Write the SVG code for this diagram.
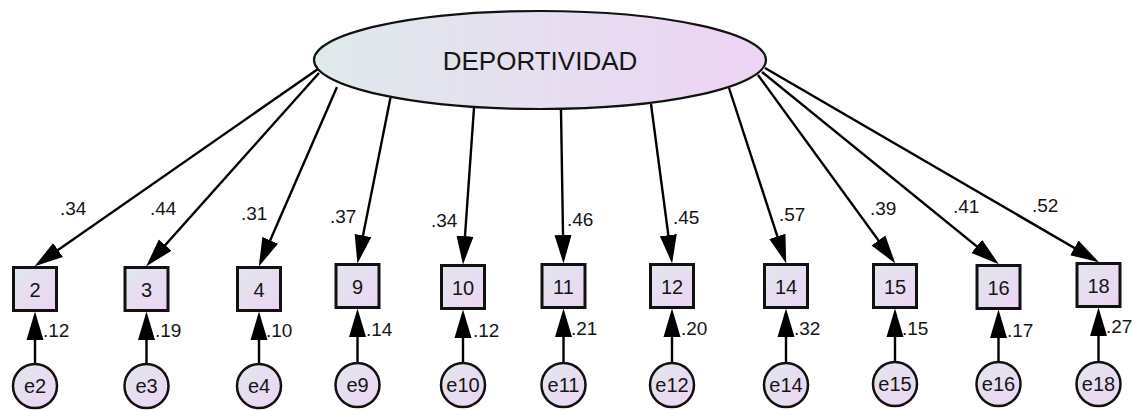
<svg xmlns="http://www.w3.org/2000/svg" width="1135" height="410" viewBox="0 0 1135 410">
<defs>
<linearGradient id="gEll" x1="0" y1="0" x2="1" y2="0">
<stop offset="0" stop-color="#dfeaeb"/>
<stop offset="1" stop-color="#edd3f4"/>
</linearGradient>
<linearGradient id="gBox" x1="0" y1="0" x2="1" y2="1">
<stop offset="0" stop-color="#e1e7ee"/>
<stop offset="1" stop-color="#edd4f3"/>
</linearGradient>
<marker id="ah" markerUnits="userSpaceOnUse" markerWidth="29" markerHeight="18" viewBox="0 0 29 18" refX="24" refY="9" orient="auto">
<path d="M0,0.5 L28.5,9 L0,17.5 z" fill="#000"/>
</marker>
<style>
.c line{stroke:#000;stroke-width:2.4;fill:none;marker-end:url(#ah)}
.box{fill:url(#gBox);stroke:#111;stroke-width:3}
.err{fill:url(#gBox);stroke:#111;stroke-width:2.5}
.lat{fill:url(#gEll);stroke:#111;stroke-width:2.2}
text{font-family:"Liberation Sans",Arial,sans-serif;fill:#151515}
.nt{font-size:20px;text-anchor:middle}
.lt{font-size:26px;text-anchor:middle}
.w{font-size:19px}
</style>
</defs>
<g id="connectors" class="c">
<line x1="318" y1="69" x2="38.3" y2="263.7"/>
<line x1="319" y1="73" x2="149.2" y2="263"/>
<line x1="337" y1="87" x2="260.6" y2="262.3"/>
<line x1="390.5" y1="97.5" x2="358.3" y2="259.1"/>
<line x1="474" y1="108" x2="463.3" y2="260"/>
<line x1="561" y1="110" x2="563.4" y2="259"/>
<line x1="651" y1="104" x2="671.5" y2="259"/>
<line x1="729" y1="88" x2="784.8" y2="259.2"/>
<line x1="758" y1="75" x2="892.6" y2="259.8"/>
<line x1="762" y1="72" x2="995.4" y2="261.5"/>
<line x1="765" y1="68" x2="1095.1" y2="260"/>
<line x1="35" y1="364" x2="35" y2="316"/>
<line x1="146.5" y1="364" x2="146.5" y2="316"/>
<line x1="259" y1="364" x2="259" y2="316"/>
<line x1="357.5" y1="363" x2="357.5" y2="313"/>
<line x1="463" y1="363" x2="463" y2="314"/>
<line x1="563.5" y1="363" x2="563.5" y2="313"/>
<line x1="672" y1="363" x2="672" y2="313"/>
<line x1="786" y1="363" x2="786" y2="313"/>
<line x1="895" y1="362" x2="895" y2="313"/>
<line x1="998.5" y1="362" x2="998.5" y2="314"/>
<line x1="1098.5" y1="362" x2="1098.5" y2="312"/>
</g>
<g id="labels">
<text class="w" x="60" y="215">.34</text>
<text class="w" x="150" y="215">.44</text>
<text class="w" x="241" y="220">.31</text>
<text class="w" x="330" y="223">.37</text>
<text class="w" x="431" y="227">.34</text>
<text class="w" x="567" y="226">.46</text>
<text class="w" x="673" y="224">.45</text>
<text class="w" x="779" y="221">.57</text>
<text class="w" x="870" y="215">.39</text>
<text class="w" x="953" y="213">.41</text>
<text class="w" x="1032" y="212">.52</text>
<text class="w" x="43" y="337">.12</text>
<text class="w" x="155" y="337">.19</text>
<text class="w" x="266" y="337">.10</text>
<text class="w" x="366" y="336">.14</text>
<text class="w" x="473" y="337">.12</text>
<text class="w" x="571" y="335">.21</text>
<text class="w" x="681" y="335">.20</text>
<text class="w" x="794" y="335">.32</text>
<text class="w" x="902" y="335">.15</text>
<text class="w" x="1007" y="337">.17</text>
<text class="w" x="1106" y="333">.27</text>
</g>
<g id="DEPORTIVIDAD">
<ellipse class="lat" cx="540" cy="60" rx="226" ry="49"/>
<text class="lt" x="540" y="70">DEPORTIVIDAD</text>
</g>
<g id="v2"><rect class="box" x="13.5" y="267.5" width="43" height="43"/><text class="nt" x="35" y="297">2</text></g>
<g id="v3"><rect class="box" x="125" y="267.5" width="43" height="43"/><text class="nt" x="146.5" y="297">3</text></g>
<g id="v4"><rect class="box" x="237.5" y="267.5" width="43" height="43"/><text class="nt" x="259" y="297">4</text></g>
<g id="v9"><rect class="box" x="336" y="264.5" width="43" height="43"/><text class="nt" x="357.5" y="294">9</text></g>
<g id="v10"><rect class="box" x="441.5" y="265.5" width="43" height="43"/><text class="nt" x="463" y="295">10</text></g>
<g id="v11"><rect class="box" x="542" y="264.5" width="43" height="43"/><text class="nt" x="563.5" y="294">11</text></g>
<g id="v12"><rect class="box" x="650.5" y="264.5" width="43" height="43"/><text class="nt" x="672" y="294">12</text></g>
<g id="v14"><rect class="box" x="764.5" y="264.5" width="43" height="43"/><text class="nt" x="786" y="294">14</text></g>
<g id="v15"><rect class="box" x="873.5" y="264.5" width="43" height="43"/><text class="nt" x="895" y="294">15</text></g>
<g id="v16"><rect class="box" x="977" y="265.5" width="43" height="43"/><text class="nt" x="998.5" y="295">16</text></g>
<g id="v18"><rect class="box" x="1077" y="263.5" width="43" height="43"/><text class="nt" x="1098.5" y="293">18</text></g>
<g id="e2"><circle class="err" cx="35" cy="386" r="22"/><text class="nt" x="35" y="393">e2</text></g>
<g id="e3"><circle class="err" cx="146.5" cy="386" r="22"/><text class="nt" x="146.5" y="393">e3</text></g>
<g id="e4"><circle class="err" cx="259" cy="386" r="22"/><text class="nt" x="259" y="393">e4</text></g>
<g id="e9"><circle class="err" cx="357.5" cy="385" r="22"/><text class="nt" x="357.5" y="392">e9</text></g>
<g id="e10"><circle class="err" cx="463" cy="385" r="22"/><text class="nt" x="463" y="392">e10</text></g>
<g id="e11"><circle class="err" cx="563.5" cy="385" r="22"/><text class="nt" x="563.5" y="392">e11</text></g>
<g id="e12"><circle class="err" cx="672" cy="385" r="22"/><text class="nt" x="672" y="392">e12</text></g>
<g id="e14"><circle class="err" cx="786" cy="385" r="22"/><text class="nt" x="786" y="392">e14</text></g>
<g id="e15"><circle class="err" cx="895" cy="384" r="22"/><text class="nt" x="895" y="391">e15</text></g>
<g id="e16"><circle class="err" cx="998.5" cy="384" r="22"/><text class="nt" x="998.5" y="391">e16</text></g>
<g id="e18"><circle class="err" cx="1098.5" cy="384" r="22"/><text class="nt" x="1098.5" y="391">e18</text></g>
</svg>
